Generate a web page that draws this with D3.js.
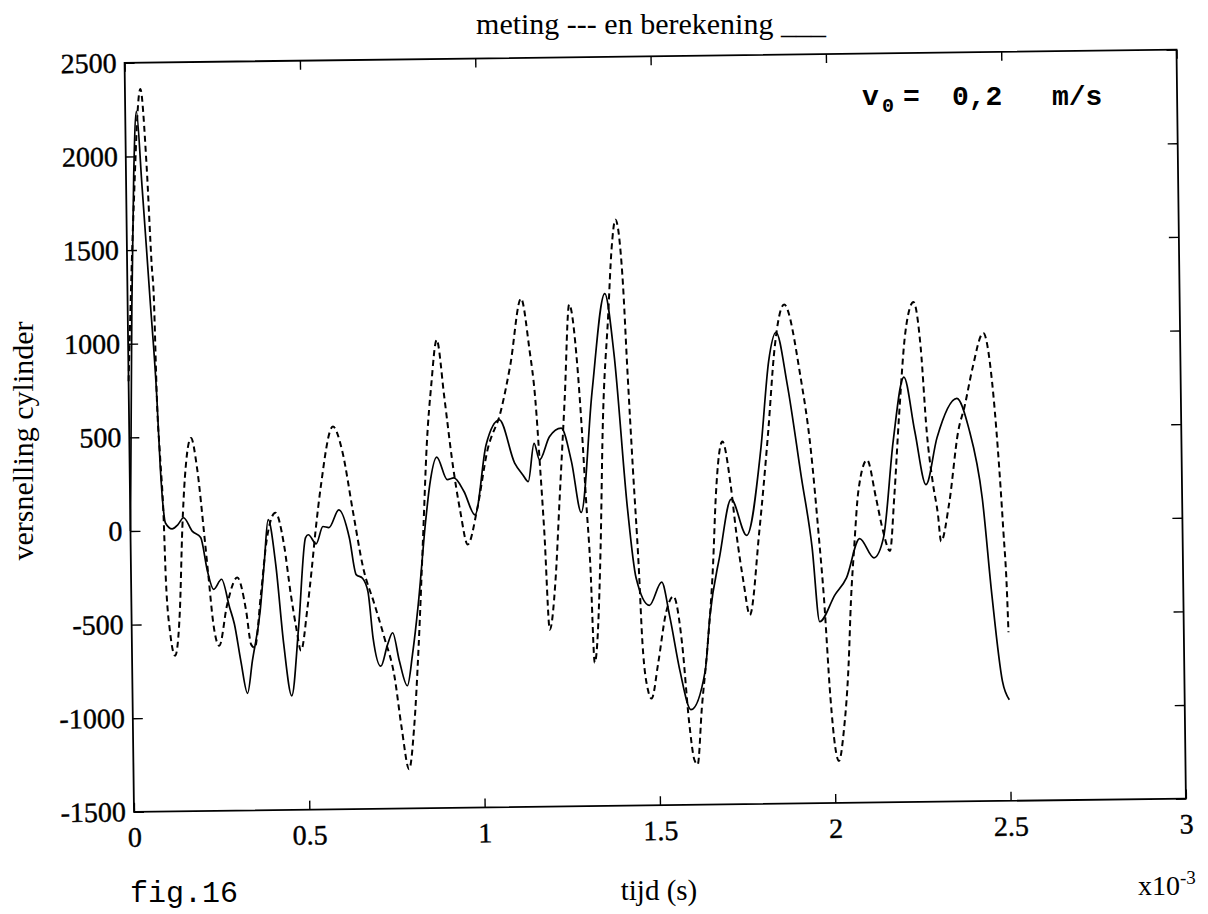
<!DOCTYPE html>
<html>
<head>
<meta charset="utf-8">
<script src="https://cdnjs.cloudflare.com/ajax/libs/d3/7.8.5/d3.min.js"></script>
<style>
  body { margin: 0; background: #fff; }
  svg { display: block; }
</style>
</head>
<body>
<div id="chart"></div>
<script>
// tijd in x10^-3 s, versnelling cylinder
const tijdBerekening = [0.000, 0.012, 0.022, 0.032, 0.045, 0.056, 0.064, 0.080, 0.087, 0.095, 0.100, 0.119, 0.135, 0.152, 0.176,
  0.200, 0.218, 0.235, 0.258, 0.280, 0.293, 0.310, 0.328, 0.343, 0.367, 0.380, 0.393, 0.413, 0.433, 0.454,
  0.476, 0.499, 0.507, 0.529, 0.549, 0.566, 0.595, 0.624, 0.642, 0.660, 0.675, 0.688, 0.709, 0.729, 0.744,
  0.762, 0.784, 0.800, 0.818, 0.842, 0.855, 0.876, 0.905, 0.924, 0.952, 0.983, 1.017, 1.056, 1.098, 1.121,
  1.136, 1.154, 1.169, 1.198, 1.232, 1.260, 1.286, 1.321, 1.361, 1.385, 1.418, 1.440, 1.477, 1.513, 1.535,
  1.562, 1.592, 1.634, 1.649, 1.680, 1.714, 1.757, 1.800, 1.826, 1.848, 1.878, 1.915, 1.943, 1.962, 2.007,
  2.040, 2.079, 2.119, 2.147, 2.178, 2.211, 2.240, 2.270, 2.303, 2.361, 2.394, 2.430, 2.454, 2.481, 2.500];
const berekening = [0, 1200, 1900, 2240, 1850, 1500, 1240, 710, 350, 105, 40, 8, 30, 67, -5,
  -40, -219, -317, -264, -415, -504, -701, -875, -702, -435, -187, 51, -188, -615, -891,
  -526, -47, -32, -81, 11, 5, 99, -52, -248, -268, -340, -588, -739, -624, -561,
  -711, -845, -675, -411, 32, 226, 374, 253, 262, 190, 63, 435, 568, 337, 273,
  237, 441, 352, 475, 520, 341, 69, 709, 1236, 915, 87, -284, -432, -309, -496,
  -785, -992, -784, -497, -167, 130, -65, 389, 866, 1018, 739, 241, -132, -530, -387,
  -298, -90, -193, -86, 427, 770, 480, 194, 443, 653, 493, 119, -399, -860, -960];

const tijdMeting = [0.000, 0.020, 0.044, 0.059, 0.070, 0.075, 0.080, 0.087, 0.095, 0.099, 0.109, 0.123, 0.138, 0.148, 0.157,
  0.176, 0.192, 0.211, 0.221, 0.233, 0.249, 0.273, 0.303, 0.327, 0.340, 0.350, 0.370, 0.389, 0.414, 0.437,
  0.455, 0.469, 0.482, 0.501, 0.515, 0.529, 0.544, 0.581, 0.607, 0.635, 0.662, 0.693, 0.720, 0.748, 0.766,
  0.786, 0.802, 0.818, 0.834, 0.848, 0.863, 0.880, 0.900, 0.919, 0.941, 0.961, 0.990, 1.020, 1.060, 1.089,
  1.122, 1.144, 1.159, 1.170, 1.180, 1.192, 1.210, 1.225, 1.243, 1.259, 1.280, 1.291, 1.300, 1.310, 1.319,
  1.340, 1.350, 1.370, 1.382, 1.394, 1.412, 1.423, 1.435, 1.448, 1.456, 1.470, 1.480, 1.500, 1.524, 1.546,
  1.569, 1.586, 1.600, 1.609, 1.623, 1.641, 1.660, 1.670, 1.691, 1.713, 1.727, 1.746, 1.763, 1.793, 1.822,
  1.843, 1.872, 1.916, 1.943, 1.962, 1.975, 1.990, 2.002, 2.012, 2.027, 2.043, 2.052, 2.063, 2.077, 2.103,
  2.127, 2.146, 2.165, 2.179, 2.196, 2.217, 2.241, 2.260, 2.274, 2.289, 2.303, 2.311, 2.335, 2.364, 2.383,
  2.407, 2.439, 2.462, 2.476, 2.489, 2.497, 2.500];
const meting = [800, 1700, 2360, 1953, 1420, 1243, 708, 400, 70, -250, -537, -669, -430, 13, 280,
  493, 333, -40, -253, -501, -619, -400, -256, -435, -614, -632, -342, -47, 88, -80,
  -350, -525, -650, -436, -224, 8, 221, 544, 410, 90, -210, -407, -586, -799, -1066,
  -1291, -1065, -621, -57, 441, 761, 1000, 688, 368, 84, -95, 99, 401, 613, 860,
  1215, 945, 679, 323, -31, -555, -298, 146, 679, 1180, 855, 500, 143, -212, -735,
  -120, 501, 1123, 1475, 1630, 1328, 812, 294, -223, -636, -884, -930, -742, -474, -385,
  -640, -1054, -1261, -1285, -982, -662, -220, 136, 438, 206, -43, -310, -490, -46, 487,
  929, 1165, 780, 385, -60, -402, -937, -1203, -1275, -1115, -760, -420, -138, 164, 330,
  127, -51, -158, 126, 570, 1013, 1170, 923, 479, 212, 35, -110, 87, 478, 610,
  814, 1000, 742, 387, -57, -377, -600];

const xTicks = [0, 0.5, 1, 1.5, 2, 2.5, 3];
const xTickLabels = ["0", "0.5", "1", "1.5", "2", "2.5", "3"];
const yTicks = [-1500, -1000, -500, 0, 500, 1000, 1500, 2000, 2500];

const width = 1208, height = 914;
const plotLeft = 129.25, plotRight = 1181.25, plotTop = 56.25, plotBottom = 805.25;
const serif = "'Liberation Serif', 'Times New Roman', serif";
const mono = "'Liberation Mono', 'Courier New', monospace";

let svg = d3.select("#chart").append("svg")
    .attr("width", width)
    .attr("height", height)
    .style("background", "#fff");

let x = d3.scaleLinear().domain([0, 3]).range([plotLeft, plotRight]);
let y = d3.scaleLinear().domain([-1500, 2500]).range([plotBottom, plotTop]);

// scanned page is a bit tilted
let plot = svg.append("g")
    .attr("transform", "rotate(-0.72, " + (plotLeft + plotRight) / 2 + ", " + (plotTop + plotBottom) / 2 + ")");

let xBottom = plot.append("g")
    .attr("transform", "translate(0," + plotBottom + ")")
    .call(d3.axisBottom(x).tickValues(xTicks).tickFormat((d, i) => xTickLabels[i])
        .tickSizeInner(-9).tickSizeOuter(0).tickPadding(15));

let xTop = plot.append("g")
    .attr("transform", "translate(0," + plotTop + ")")
    .call(d3.axisTop(x).tickValues(xTicks).tickFormat("").tickSizeInner(-9).tickSizeOuter(0));

// plain hyphen for negatives, as in the original
let yLeft = plot.append("g")
    .attr("transform", "translate(" + plotLeft + ",0)")
    .call(d3.axisLeft(y).tickValues(yTicks).tickFormat((d) => String(d))
        .tickSizeInner(-10).tickSizeOuter(0).tickPadding(8));

let yRight = plot.append("g")
    .attr("transform", "translate(" + plotRight + ",0)")
    .call(d3.axisRight(y).tickValues(yTicks).tickFormat("").tickSizeInner(-10).tickSizeOuter(0));

[xBottom, xTop, yLeft, yRight].forEach((g) => {
    g.select(".domain").remove();
    g.selectAll(".tick line").attr("stroke", "#000").attr("stroke-width", 1.4);
    g.selectAll(".tick text")
        .attr("font-family", serif)
        .style("font-size", "28px")
        .attr("fill", "#000")
        .attr("stroke", "#000")
        .attr("stroke-width", 0.4);
});

plot.append("rect")
    .attr("x", plotLeft)
    .attr("y", plotTop)
    .attr("width", plotRight - plotLeft)
    .attr("height", plotBottom - plotTop)
    .attr("fill", "none")
    .attr("stroke", "#000")
    .attr("stroke-width", 1.8);

let berekeningLine = d3.line()
    .x((d, i) => x(tijdBerekening[i]))
    .y((d) => y(d))
    .curve(d3.curveMonotoneX);

let metingLine = d3.line()
    .x((d, i) => x(tijdMeting[i]))
    .y((d) => y(d))
    .curve(d3.curveMonotoneX);

plot.append("path")
    .datum(meting)
    .attr("d", metingLine)
    .attr("fill", "none")
    .attr("stroke", "#000")
    .attr("stroke-width", 2)
    .attr("stroke-dasharray", "6,4");

plot.append("path")
    .datum(berekening)
    .attr("d", berekeningLine)
    .attr("fill", "none")
    .attr("stroke", "#000")
    .attr("stroke-width", 1.7);

// texts
svg.append("text")
    .attr("x", 651)
    .attr("y", 34)
    .attr("text-anchor", "middle")
    .attr("font-family", serif)
    .style("font-size", "30px")
    .text("meting --- en berekening ___");

let v0 = svg.append("text")
    .attr("y", 105)
    .attr("font-family", mono)
    .style("font-size", "28px")
    .style("font-weight", "bold");
v0.append("tspan").attr("x", 862).text("v");
v0.append("tspan").attr("x", 882).attr("dy", 7).style("font-size", "20px").text("0");
v0.append("tspan").attr("x", 903).attr("dy", -7).text("=");
v0.append("tspan").attr("x", 952).text("0,2");
v0.append("tspan").attr("x", 1052).text("m/s");

svg.append("text")
    .attr("transform", "translate(33,441) rotate(-90)")
    .attr("text-anchor", "middle")
    .attr("font-family", serif)
    .style("font-size", "30px")
    .text("versnelling cylinder");

svg.append("text")
    .attr("x", 659)
    .attr("y", 900)
    .attr("text-anchor", "middle")
    .attr("font-family", serif)
    .style("font-size", "29px")
    .text("tijd (s)");

svg.append("text")
    .attr("x", 130)
    .attr("y", 902)
    .attr("font-family", mono)
    .style("font-size", "30px")
    .text("fig.16");

let exp = svg.append("text")
    .attr("x", 1138)
    .attr("y", 895)
    .attr("font-family", serif)
    .style("font-size", "28px");
exp.append("tspan").text("x10");
exp.append("tspan").attr("dy", -11).style("font-size", "19px").text("-3");
</script>
</body>
</html>
